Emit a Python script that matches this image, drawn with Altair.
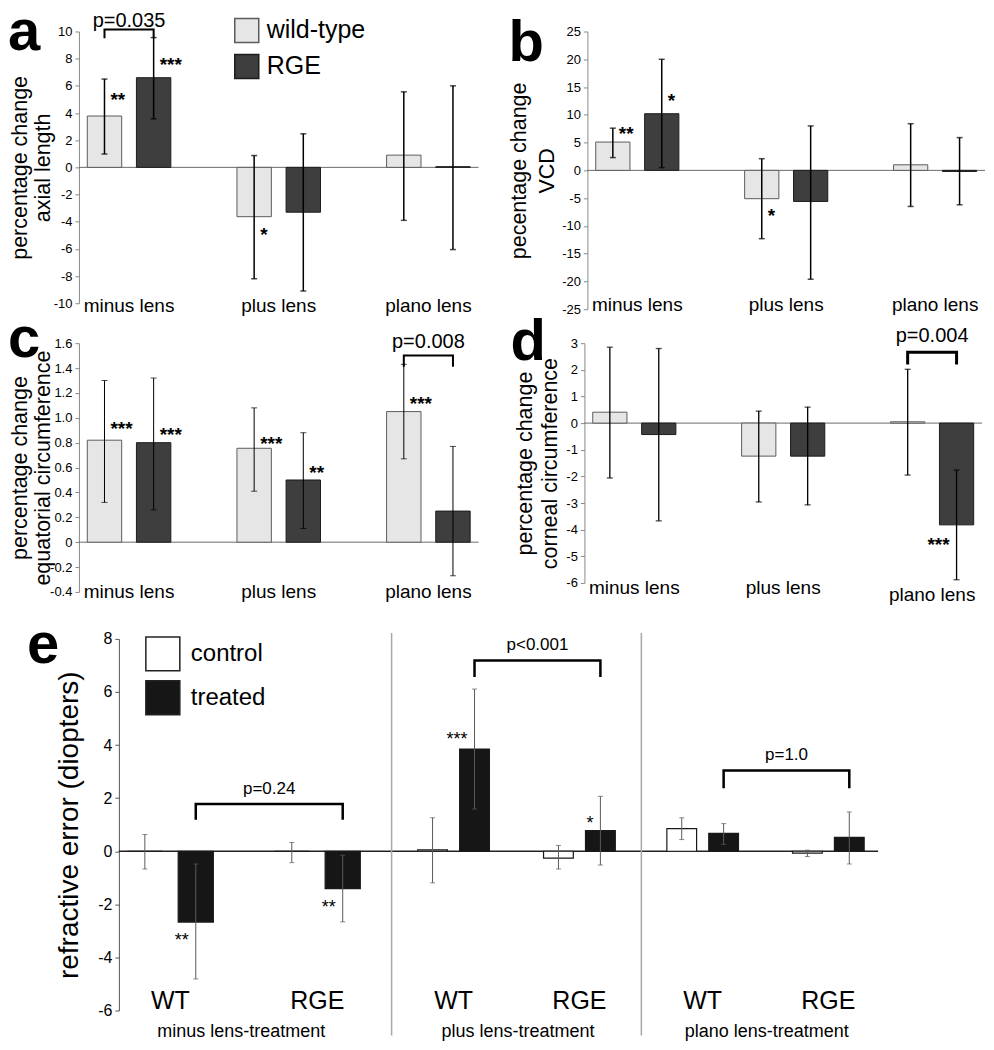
import altair as alt
import pandas as pd

FONT = "Liberation Sans"

# ---------------- shared categories / styles ----------------
lenses = ["minus lens", "plus lens", "plano lens"]
genotypes = ["wild-type", "RGE"]
geno_fill = ["#e6e6e6", "#3e3e3e"]
geno_stroke = ["#5c5c5c", "#1c1c1c"]

# ---------------- panel a : axial length ----------------
a_wt = [3.78, -3.63, 0.9]
a_wt_lo = [0.98, -8.2, -3.9]
a_wt_hi = [6.5, 0.87, 5.56]
a_rge = [6.6, -3.3, 0.05]
a_rge_lo = [3.57, -9.1, -6.05]
a_rge_hi = [9.55, 2.47, 6.0]
a_ticks = [-10, -8, -6, -4, -2, 0, 2, 4, 6, 8, 10]
a_star_lens = ["minus lens", "minus lens", "plus lens"]
a_star_geno = ["wild-type", "RGE", "wild-type"]
a_star_text = ["**", "***", "*"]
a_star_y = [5.3, 7.9, -4.6]
a_star_side = ["right", "right", "right"]
a_pval = ["minus lens", "p=0.035", 9.5, 10.15, 10.8]

# ---------------- panel b : VCD ----------------
b_wt = [5.1, -5.1, 1.0]
b_wt_lo = [2.3, -12.3, -6.5]
b_wt_hi = [7.6, 2.1, 8.4]
b_rge = [10.2, -5.6, -0.2]
b_rge_lo = [0.5, -19.6, -6.2]
b_rge_hi = [20.0, 8.0, 5.9]
b_ticks = [-25, -20, -15, -10, -5, 0, 5, 10, 15, 20, 25]
b_star_lens = ["minus lens", "minus lens", "plus lens"]
b_star_geno = ["wild-type", "RGE", "wild-type"]
b_star_text = ["**", "*", "*"]
b_star_y = [7.5, 13.3, -7.4]
b_star_side = ["right", "right", "right"]

# ---------------- panel c : equatorial circumference ----------------
c_wt = [0.82, 0.755, 1.05]
c_wt_lo = [0.32, 0.41, 0.67]
c_wt_hi = [1.30, 1.08, 1.43]
c_rge = [0.80, 0.50, 0.25]
c_rge_lo = [0.26, 0.11, -0.27]
c_rge_hi = [1.32, 0.88, 0.77]
c_ticks = [-0.4, -0.2, 0, 0.2, 0.4, 0.6, 0.8, 1.0, 1.2, 1.4, 1.6]
c_star_lens = ["minus lens", "minus lens", "plus lens", "plus lens", "plano lens"]
c_star_geno = ["wild-type", "RGE", "wild-type", "RGE", "wild-type"]
c_star_text = ["***", "***", "***", "**", "***"]
c_star_y = [0.95, 0.90, 0.83, 0.60, 1.15]
c_star_side = ["right", "right", "right", "right", "right"]
c_pval = ["plano lens", "p=0.008", 1.41, 1.50, 1.61]

# ---------------- panel d : corneal circumference ----------------
d_wt = [0.41, -1.24, 0.05]
d_wt_lo = [-2.06, -2.96, -1.95]
d_wt_hi = [2.85, 0.45, 2.02]
d_rge = [-0.43, -1.24, -3.82]
d_rge_lo = [-3.67, -3.07, -5.88]
d_rge_hi = [2.8, 0.6, -1.76]
d_ticks = [-6, -5, -4, -3, -2, -1, 0, 1, 2, 3]
d_star_lens = ["plano lens"]
d_star_geno = ["RGE"]
d_star_text = ["***"]
d_star_y = [-4.38]
d_star_side = ["left"]
d_pval = ["plano lens", "p=0.004", 2.2, 2.66, 3.26]

# ---------------- panel e : refractive error ----------------
e_genos = ["WT", "RGE"]
conditions = ["control", "treated"]
treatments = ["minus lens-treatment", "plus lens-treatment", "plano lens-treatment"]
cond_fill = ["#ffffff", "#161616"]
e_ticks = [-6, -4, -2, 0, 2, 4, 6, 8]
# order: WT control, WT treated, RGE control, RGE treated
e_minus = [0.0, -2.67, 0.0, -1.41]
e_minus_lo = [-0.67, -4.81, -0.43, -2.66]
e_minus_hi = [0.63, -0.48, 0.33, -0.15]
e_plus = [0.05, 3.85, -0.26, 0.78]
e_plus_lo = [-1.19, 1.59, -0.67, -0.52]
e_plus_hi = [1.26, 6.11, 0.22, 2.07]
e_plano = [0.85, 0.67, -0.07, 0.52]
e_plano_lo = [0.44, 0.26, -0.2, -0.48]
e_plano_hi = [1.26, 1.04, 0.04, 1.48]
e_minus_star_geno = ["WT", "RGE"]
e_minus_star_text = ["**", "**"]
e_minus_star_y = [-3.2, -1.95]
e_plus_star_geno = ["WT", "RGE"]
e_plus_star_text = ["***", "*"]
e_plus_star_y = [4.37, 1.22]
e_plano_star_geno = []
e_plano_star_text = []
e_plano_star_y = []
e_minus_pval = ["p=0.24", 1.19, 1.78, 2.33]
e_plus_pval = ["p<0.001", 6.56, 7.19, 7.78]
e_plano_pval = ["p=1.0", 2.37, 3.04, 3.63]


def text_layer(df, x, xo, y, **kw):
    enc = dict(x=x, y=y, text="txt:N")
    if xo is not None:
        enc["xOffset"] = xo
    return alt.Chart(df).mark_text(font=FONT, color="black", **kw).encode(**enc)


def fixed_text(txt, x, y, **kw):
    return alt.Chart(pd.DataFrame({"txt": [txt]})).mark_text(font=FONT, color="black", **kw).encode(
        x=alt.value(x), y=alt.value(y), text="txt:N")


def lens_panel(wt, wt_lo, wt_hi, rge, rge_lo, rge_hi, ydom, yticks, ytitle,
               star_lens, star_geno, star_text, star_y, star_side, pval,
               letter, letter_x, letter_y, width, height,
               title_x, title_lh, label_pad, err_w, bracket_w, label_expr, legend=None):
    rows = []
    for i, ln in enumerate(lenses):
        rows.append({"lens": ln, "geno": "wild-type", "mean": wt[i], "lo": wt_lo[i], "hi": wt_hi[i]})
        rows.append({"lens": ln, "geno": "RGE", "mean": rge[i], "lo": rge_lo[i], "hi": rge_hi[i]})
    df = pd.DataFrame(rows)
    xs = alt.Scale(domain=lenses, paddingInner=0.33, paddingOuter=0)
    xos = alt.Scale(domain=genotypes, paddingInner=0.3, paddingOuter=0.17)
    ys = alt.Scale(domain=ydom, nice=False, zero=False)

    xaxis = alt.Axis(title=None, labelAngle=0, labelFontSize=19, labelPadding=label_pad,
                     labelColor="black", domain=False, ticks=False, labelFont=FONT)
    yaxis = alt.Axis(values=yticks, title=ytitle, titleX=title_x, titleY=height / 2,
                     titleBaseline="middle",
                     titleAlign="center", titleAngle=270, titleFontSize=21.5, titleLineHeight=title_lh,
                     titleFontWeight="normal", titleFont=FONT, titleColor="black",
                     labelFontSize=13, labelFont=FONT, labelColor="black", labelExpr=label_expr,
                     domainColor="#8a8a8a", tickColor="#8a8a8a", tickSize=4, labelPadding=3, grid=False)
    X = alt.X("lens:N", scale=xs, axis=xaxis)
    XO = alt.XOffset("geno:N", scale=xos)

    def Y(f):
        return alt.Y(f, scale=ys, axis=yaxis)

    zero = alt.Chart(pd.DataFrame({"mean": [0.0]})).mark_rule(color="#6a6a6a", strokeWidth=1).encode(
        y=Y("mean:Q"))
    bars = alt.Chart(df).mark_bar(strokeWidth=1).encode(
        x=X, xOffset=XO, y=Y("mean:Q"),
        fill=alt.Fill("geno:N", scale=alt.Scale(domain=genotypes, range=geno_fill),
                      legend=legend if legend is not None else None),
        stroke=alt.Stroke("geno:N", scale=alt.Scale(domain=genotypes, range=geno_stroke), legend=None),
    )
    err = alt.Chart(df).mark_rule(color="black", strokeWidth=err_w).encode(
        x=X, xOffset=XO, y=Y("lo:Q"), y2="hi:Q")
    caps = alt.Chart(df).transform_fold(["lo", "hi"], as_=["end", "val"]).mark_tick(
        color="black", size=6, thickness=err_w).encode(x=X, xOffset=XO, y=Y("val:Q"))
    layers = [zero, bars, err, caps]

    sdf = pd.DataFrame({"lens": star_lens, "geno": star_geno, "txt": star_text,
                        "y": star_y, "side": star_side})
    for side, align, dx in (("right", "left", 6), ("left", "right", -7)):
        part = sdf[sdf["side"] == side]
        if len(part):
            layers.append(text_layer(part, X, XO, Y("y:Q"),
                                     align=align, baseline="middle", dx=dx, dy=5,
                                     fontSize=19, fontWeight="bold"))
    if pval is not None:
        br = pd.DataFrame({"lens": [pval[0]] * 4, "geno": ["wild-type", "wild-type", "RGE", "RGE"],
                           "y": [pval[2], pval[3], pval[3], pval[2]], "o": [0, 1, 2, 3]})
        layers.append(alt.Chart(br).mark_line(color="black", strokeWidth=bracket_w).encode(
            x=X, xOffset=XO, y=Y("y:Q"), order="o:Q"))
        pt = pd.DataFrame({"lens": [pval[0]], "txt": [pval[1]], "y": [pval[4]]})
        layers.append(text_layer(pt, X, None, Y("y:Q"),
                                 align="center", baseline="middle", fontSize=20))
    layers.append(fixed_text(letter, letter_x, letter_y, align="left", baseline="alphabetic",
                             fontSize=58, fontWeight="bold"))
    return alt.layer(*layers).properties(width=width, height=height)


def e_section(idx, means, los, his, star_geno, star_text, star_y, pval,
              width, height, po, align, pio, poo, p_dx, title_x,
              first=False, legend=None):
    rows = []
    k = 0
    for g in e_genos:
        for c in conditions:
            rows.append({"geno": g, "cond": c, "mean": means[k], "lo": los[k], "hi": his[k]})
            k += 1
    df = pd.DataFrame(rows)
    xs = alt.Scale(domain=e_genos, paddingInner=0.3, paddingOuter=po, align=align)
    xos = alt.Scale(domain=conditions, paddingInner=pio, paddingOuter=poo)
    ys = alt.Scale(domain=[-6, 8], nice=False, zero=False)
    xaxis = alt.Axis(title=treatments[idx], titleX=title_x, titleY=26, titleBaseline="alphabetic",
                     titleFontSize=18, titleFontWeight="normal", titleFont=FONT, titleColor="black",
                     labelFontSize=25, labelPadding=-22, labelAngle=0, labelFont=FONT,
                     labelColor="black", domain=False, ticks=False)
    if first:
        yaxis = alt.Axis(values=e_ticks, title="refractive error (diopters)", titleX=-49,
                         titleY=height / 2,
                         titleBaseline="middle", titleAlign="center", titleAngle=270,
                         titleFontSize=28, titleFontWeight="normal", titleFont=FONT, titleColor="black",
                         labelFontSize=16, labelFont=FONT, labelColor="black",
                         labelExpr="toString(datum.value)", domainColor="#555555",
                         tickColor="#555555", tickSize=4, labelPadding=3, grid=False)
    else:
        yaxis = None
    X = alt.X("geno:N", scale=xs, axis=xaxis)
    XO = alt.XOffset("cond:N", scale=xos)

    def Y(f):
        return alt.Y(f, scale=ys, axis=yaxis)

    zero = alt.Chart(pd.DataFrame({"mean": [0.0]})).mark_rule(color="#222222", strokeWidth=1.5).encode(
        y=Y("mean:Q"))
    bars = alt.Chart(df).mark_bar(stroke="#1a1a1a", strokeWidth=1.2).encode(
        x=X, xOffset=XO, y=Y("mean:Q"),
        fill=alt.Fill("cond:N", scale=alt.Scale(domain=conditions, range=cond_fill),
                      legend=legend if legend is not None else None),
    )
    err = alt.Chart(df).mark_rule(color="#5a5a5a", strokeWidth=1).encode(
        x=X, xOffset=XO, y=Y("lo:Q"), y2="hi:Q")
    caps = alt.Chart(df).transform_fold(["lo", "hi"], as_=["end", "val"]).mark_tick(
        color="#5a5a5a", size=5, thickness=1).encode(x=X, xOffset=XO, y=Y("val:Q"))
    layers = [zero, bars, err, caps]
    if len(star_geno):
        sdf = pd.DataFrame({"geno": star_geno, "cond": ["treated"] * len(star_geno),
                            "txt": star_text, "y": star_y})
        layers.append(text_layer(sdf, X, XO, Y("y:Q"),
                                 align="right", baseline="middle", dx=-7, dy=5, fontSize=18))
    br = pd.DataFrame({"geno": ["WT", "WT", "RGE", "RGE"], "cond": ["treated"] * 4,
                       "y": [pval[1], pval[2], pval[2], pval[1]], "o": [0, 1, 2, 3]})
    layers.append(alt.Chart(br).mark_line(color="black", strokeWidth=2.5).encode(
        x=X, xOffset=XO, y=Y("y:Q"), order="o:Q"))
    pt = pd.DataFrame({"geno": ["WT"], "cond": ["treated"], "txt": [pval[0]], "y": [pval[3]]})
    layers.append(text_layer(pt, X, XO, Y("y:Q"),
                             align="center", baseline="middle", dx=p_dx, fontSize=17))
    if first:
        layers.append(fixed_text("e", -92, 24, align="left", baseline="alphabetic",
                                 fontSize=58, fontWeight="bold"))
    else:
        sep = alt.Chart(pd.DataFrame({"s": [0]})).mark_rule(color="#a8a8a8", strokeWidth=1.5).encode(
            x=alt.value(0), y=alt.value(-6), y2=alt.value(height + 25))
        layers.append(sep)
    return alt.layer(*layers).properties(width=width, height=height)


legend_a = alt.Legend(orient="none", legendX=155, legendY=-14, title=None, symbolType="square",
                      symbolSize=576, symbolStrokeColor="#333333", symbolStrokeWidth=1.5,
                      labelFontSize=25, labelFont=FONT, labelColor="black", labelOffset=7,
                      rowPadding=6, padding=0)
legend_e = alt.Legend(orient="none", legendX=26, legendY=-3, title=None, symbolType="square",
                      symbolSize=1156, symbolStrokeColor="#222222", symbolStrokeWidth=1.5,
                      labelFontSize=24, labelFont=FONT, labelColor="black", labelOffset=10,
                      rowPadding=4, padding=0)

int_expr = "toString(datum.value)"
c_expr = "abs(datum.value - 1) < 1e-9 ? '1.0' : toString(round(datum.value * 10) / 10)"
d_label_pad = {"condition": {"test": "datum.value === 'plano lens'", "value": 3}, "value": -4}

pa = lens_panel(a_wt, a_wt_lo, a_wt_hi, a_rge, a_rge_lo, a_rge_hi, [-10, 10], a_ticks,
                ["percentage change", "axial length"],
                a_star_lens, a_star_geno, a_star_text, a_star_y, a_star_side, a_pval,
                "a", -71, 19, 400, 272, -58, 23, -7, 1.5, 2, int_expr, legend=legend_a)
pb = lens_panel(b_wt, b_wt_lo, b_wt_hi, b_rge, b_rge_lo, b_rge_hi, [-25, 25], b_ticks,
                ["pecentage change", "VCD"],
                b_star_lens, b_star_geno, b_star_text, b_star_y, b_star_side, None,
                "b", -79, 30, 398, 278, -68, 28, -14, 1.5, 2, int_expr)
pc = lens_panel(c_wt, c_wt_lo, c_wt_hi, c_rge, c_rge_lo, c_rge_hi, [-0.4, 1.6], c_ticks,
                ["percentage change", "equatorial circumference"],
                c_star_lens, c_star_geno, c_star_text, c_star_y, c_star_side, c_pval,
                "c", -71, 14, 400, 249, -58, 23, -9, 1, 2, c_expr)
pd_ = lens_panel(d_wt, d_wt_lo, d_wt_hi, d_rge, d_rge_lo, d_rge_hi, [-6, 3], d_ticks,
                 ["percentage change", "corneal circumference"],
                 d_star_lens, d_star_geno, d_star_text, d_star_y, d_star_side, d_pval,
                 "d", -74, 17, 398, 240, -59, 25, d_label_pad, 1.3, 3, int_expr)

E_H = 372
spacer = alt.Chart(pd.DataFrame({"s": [0]})).mark_point(opacity=0).encode(
    x=alt.value(0), y=alt.value(0)).properties(width=40, height=E_H)
e1 = e_section(0, e_minus, e_minus_lo, e_minus_hi, e_minus_star_geno, e_minus_star_text,
               e_minus_star_y, e_minus_pval, 273, E_H, 0.078, 0.0, 0.31, 0.165, 73.5, 122,
               first=True, legend=legend_e)
e2 = e_section(1, e_plus, e_plus_lo, e_plus_hi, e_plus_star_geno, e_plus_star_text,
               e_plus_star_y, e_plus_pval, 250, E_H, 0.142, 0.5, 0.29, 0.195, 63, 126)
e3 = e_section(2, e_plano, e_plano_lo, e_plano_hi, e_plano_star_geno, e_plano_star_text,
               e_plano_star_y, e_plano_pval, 237, E_H, 0.092, 0.75, 0.29, 0.195, 63, 125)

RES = dict(fill="independent", stroke="independent", x="independent", y="independent",
           xOffset="independent")

row1 = alt.hconcat(pa, pb, spacing=109, bounds="flush").resolve_scale(**RES)
row2 = alt.hconcat(pc, pd_, spacing=106, bounds="flush").resolve_scale(**RES)
row3 = alt.hconcat(spacer, e1, e2, e3, spacing=0, bounds="flush").resolve_scale(**RES)
top = alt.vconcat(row1, row2, spacing=-5).resolve_scale(**RES)

chart = alt.vconcat(top, row3, spacing=12).resolve_scale(**RES).properties(
    padding={"top": -4, "left": 0, "right": 0, "bottom": 0}
).configure_view(stroke=None).configure_axis(grid=False)

chart.save("out.html", embed_options={"renderer": "svg", "actions": False})
